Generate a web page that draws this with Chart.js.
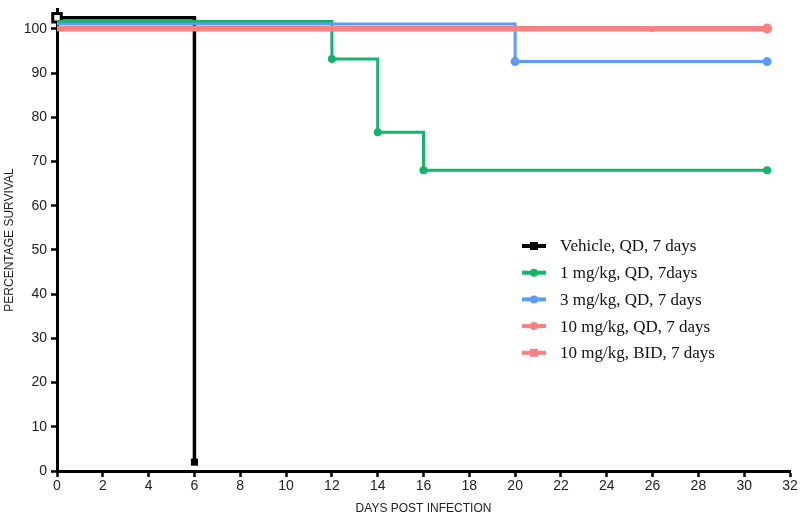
<!DOCTYPE html>
<html>
<head>
<meta charset="utf-8">
<script src="https://cdn.jsdelivr.net/npm/chart.js@4.4.1/dist/chart.umd.min.js"></script>
<style>
html,body{margin:0;padding:0;background:#fff;}
#wrap{width:800px;height:516px;position:relative;}
</style>
</head>
<body>
<div id="wrap"><canvas id="c" width="800" height="516"></canvas></div>
<script>
// Data
const X_TICKS = [0,2,4,6,8,10,12,14,16,18,20,22,24,26,28,30,32];
const Y_TICKS = [0,10,20,30,40,50,60,70,80,90,100];
const seriesLabels = ["Vehicle, QD, 7 days","1 mg/kg, QD, 7days","3 mg/kg, QD, 7 days","10 mg/kg, QD, 7 days","10 mg/kg, BID, 7 days"];
const vehicleDays = [0, 6];
const vehicleSurv = [102.5, 2];
const mg1Days = [0, 12, 14, 16, 31];
const mg1Surv = [101.7, 93.2, 76.6, 68, 68];
const mg3Days = [0, 20, 31];
const mg3Surv = [101.1, 92.6, 92.6];
const mg10qdDays = [0, 31];
const mg10qdSurv = [100.1, 100.1];
const mg10bidDays = [0, 26, 31];
const mg10bidSurv = [100, 100, 100];

const colors = ["#000000","#13b56a","#5a9cf6","#f88080","#f88080"];
const pts = (xs, ys) => xs.map((x,i)=>({x:x, y:ys[i]}));

const datasets = [
  {label:seriesLabels[0], data:pts(vehicleDays,vehicleSurv), borderColor:colors[0], backgroundColor:colors[0],
   borderWidth:3.5, pointStyle:'rect', pointRadius:[6,5], pointBackgroundColor:['#ffffff','#000000'], pointBorderColor:'#000', pointBorderWidth:[3,0], order:5},
  {label:seriesLabels[1], data:pts(mg1Days,mg1Surv), borderColor:colors[1], backgroundColor:colors[1],
   borderWidth:3, pointStyle:'circle', pointRadius:[0,4,4,4,4], pointBorderWidth:0, order:4},
  {label:seriesLabels[2], data:pts(mg3Days,mg3Surv), borderColor:colors[2], backgroundColor:colors[2],
   borderWidth:3, pointStyle:'circle', pointRadius:[0,4.5,4.5], pointBorderWidth:0, order:3},
  {label:seriesLabels[3], data:pts(mg10qdDays,mg10qdSurv), borderColor:colors[3], backgroundColor:colors[3],
   borderWidth:5, pointStyle:'circle', pointRadius:[0,5], pointBorderWidth:0, order:2},
  {label:seriesLabels[4], data:pts(mg10bidDays,mg10bidSurv), borderColor:colors[4], backgroundColor:colors[4],
   borderWidth:5, pointStyle:'rect', pointRadius:[0,4,4], pointBorderWidth:0, order:1}
];
datasets.forEach(d=>{d.stepped=true; d.tension=0; d.clip=false; d.fill=false;});

const legendPlugin = {
  id:'customLegend',
  afterDraw(chart){
    const ctx = chart.ctx;
    const x0 = 522, x1 = 546, tx = 560, y0 = 246, dy = 26.7;
    ctx.save();
    ctx.font = '17px "Liberation Serif", "Times New Roman", serif';
    ctx.textBaseline = 'middle';
    ctx.textAlign = 'left';
    chart.data.datasets.forEach((d,i)=>{
      const y = y0 + i*dy;
      ctx.strokeStyle = d.borderColor;
      ctx.fillStyle = d.borderColor;
      ctx.lineWidth = 4;
      ctx.beginPath(); ctx.moveTo(x0,y); ctx.lineTo(x1,y); ctx.stroke();
      const cx = (x0+x1)/2;
      if (d.pointStyle==='rect') { ctx.fillRect(cx-4, y-4, 8, 8); }
      else { ctx.beginPath(); ctx.arc(cx,y,4,0,Math.PI*2); ctx.fill(); }
      ctx.fillStyle = '#111';
      ctx.fillText(d.label, tx, y+1);
    });
    ctx.restore();
  }
};

new Chart(document.getElementById('c'), {
  type:'line',
  data:{datasets:datasets},
  plugins:[legendPlugin],
  options:{
    responsive:false,
    animation:false,
    layout:{padding:{top:0,right:10,left:0,bottom:0}},
    plugins:{legend:{display:false}, tooltip:{enabled:false}},
    scales:{
      x:{type:'linear', min:0, max:32,
        afterBuildTicks:(s)=>{s.ticks = X_TICKS.map(v=>({value:v}));},
        afterFit:(s)=>{s.height = 45; s.paddingLeft = 0; s.paddingRight = 0;},
        grid:{display:true, drawOnChartArea:false, drawTicks:true, tickLength:6, tickWidth:2.5, tickColor:'#000'},
        border:{display:true, color:'#000', width:3},
        ticks:{color:'#222', font:{family:'"Liberation Sans", Arial, sans-serif', size:14}, padding:1, maxRotation:0, autoSkip:false},
        title:{display:true, text:'DAYS POST INFECTION', color:'#222', font:{family:'"Liberation Sans", Arial, sans-serif', size:12}, padding:{top:1,bottom:0}}
      },
      y:{type:'linear', min:0, max:104.5,
        afterBuildTicks:(s)=>{s.ticks = Y_TICKS.map(v=>({value:v}));},
        afterFit:(s)=>{s.width = 57; s.paddingTop = 0; s.paddingBottom = 0;},
        grid:{display:true, drawOnChartArea:false, drawTicks:true, tickLength:6, tickWidth:2.5, tickColor:'#000'},
        border:{display:true, color:'#000', width:3},
        ticks:{color:'#222', font:{family:'"Liberation Sans", Arial, sans-serif', size:14}, padding:4, autoSkip:false},
        title:{display:true, text:'PERCENTAGE SURVIVAL', color:'#222', font:{family:'"Liberation Sans", Arial, sans-serif', size:12}, padding:{top:2,bottom:2}}
      }
    }
  }
});
</script>
</body>
</html>
